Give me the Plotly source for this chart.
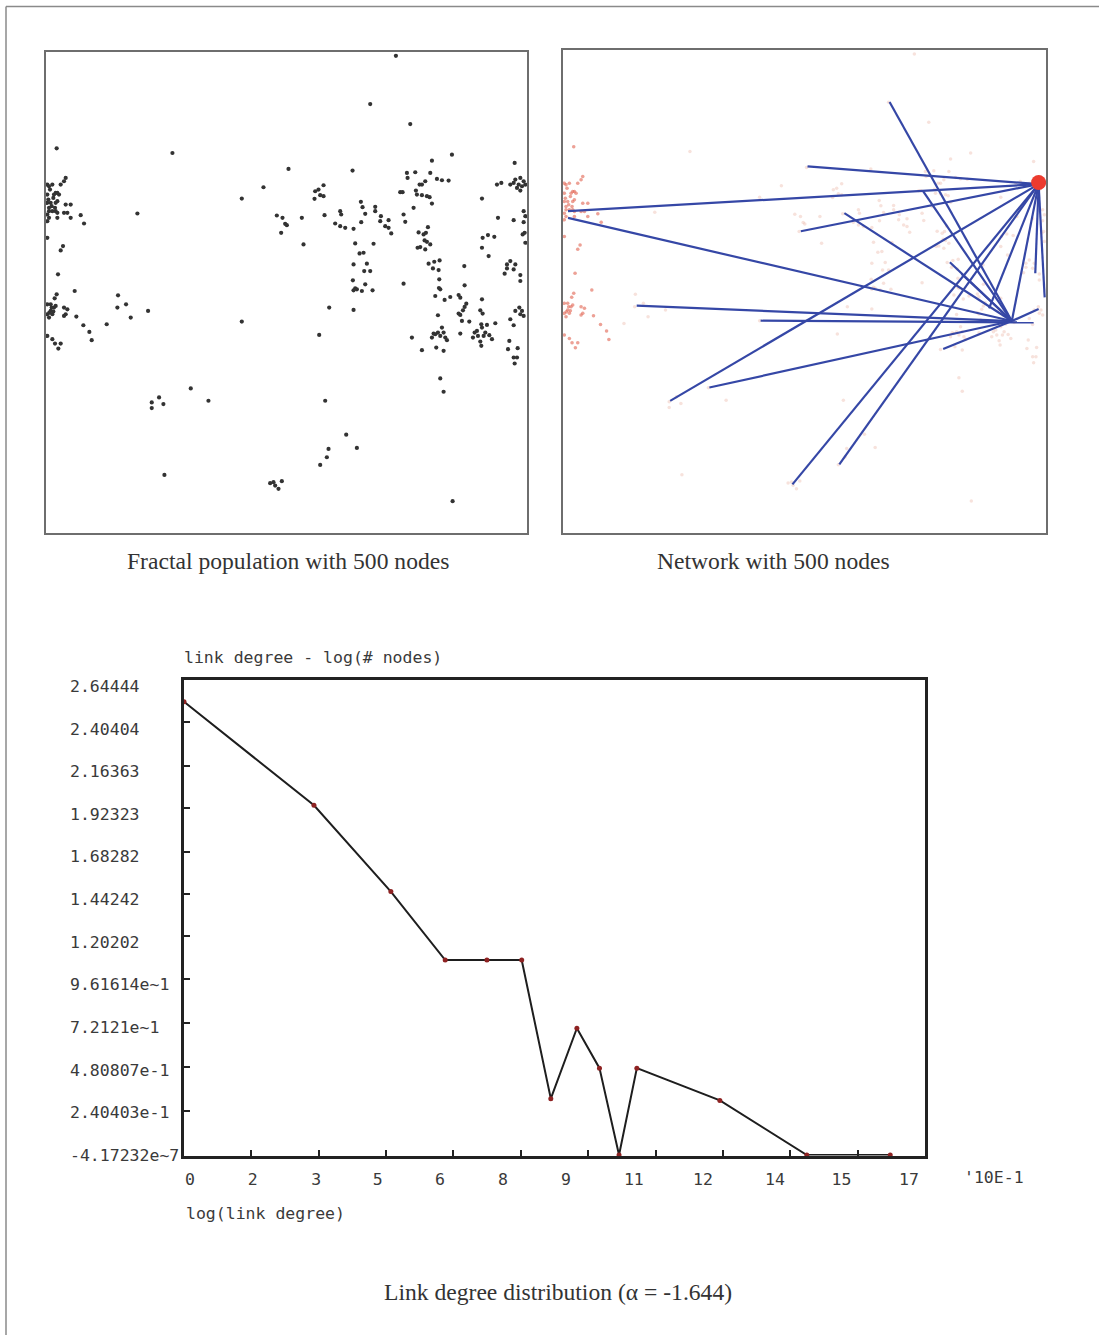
import plotly.graph_objects as go

W, H = 1099, 1344

# ---------------- Node positions (layout units, shared by both top panels) ----------------
west_nodes = [
    (50, 321), (22, 430), (27, 435), (37, 430), (62, 430), (77, 410), (72, 420), (47, 455), (57, 460),
    (52, 455), (42, 460), (22, 460), (22, 485), (32, 485), (47, 485), (52, 480), (27, 500), (27, 510),
    (37, 510), (47, 510), (52, 515), (22, 520), (27, 530), (22, 540), (52, 530), (77, 490), (92, 490),
    (72, 515), (82, 515), (92, 530), (122, 522), (132, 547), (22, 590), (69, 615), (62, 628), (54, 700),
    (30, 445), (40, 470), (35, 495), (45, 500), (25, 475),
    (104, 750), (50, 760), (44, 772), (22, 790), (32, 790), (42, 800), (32, 810), (22, 820), (37, 820),
    (47, 795), (27, 830), (72, 800), (82, 805), (72, 825), (77, 820), (109, 827), (130, 853), (148, 873),
    (155, 898), (22, 885), (37, 895), (45, 908), (62, 908), (55, 923), (35, 800), (28, 815), (40, 812),
]
middle_nodes = [
    (397, 335), (745, 383), (937, 388), (670, 438), (605, 472), (292, 517),
    (850, 432), (835, 445), (825, 450), (823, 473), (840, 462), (850, 465), (853, 522),
    (710, 523), (727, 530), (735, 548), (740, 552), (723, 575), (785, 530), (790, 610),
    (900, 510), (903, 520), (885, 547), (900, 555), (915, 560), (940, 563),
    (962, 482), (967, 498), (975, 518), (963, 543), (1005, 497), (1005, 510), (1022, 525), (1020, 540),
    (1045, 537), (1035, 555), (1045, 560), (1053, 577),
    (945, 607), (1000, 608), (958, 637), (970, 635), (940, 670), (980, 668), (972, 690), (990, 690),
    (938, 718), (975, 730), (945, 742), (940, 748), (950, 745), (965, 750), (997, 748),
    (867, 800), (940, 807), (837, 882), (605, 842),
    (234, 763), (258, 790), (232, 800), (272, 830), (324, 810), (200, 850),
    (1067, 43), (990, 188), (1110, 248),
]
east_nodes = [
    (1235, 340), (1175, 358), (1423, 365), (1100, 395), (1125, 393), (1170, 395), (1102, 410), (1145, 430),
    (1138, 430), (1155, 420), (1190, 413), (1205, 417), (1225, 418), (1127, 448), (1130, 460), (1145, 462),
    (1160, 465), (1168, 468), (1080, 453), (1087, 453), (1175, 487), (1120, 500), (1325, 472), (1370, 430),
    (1383, 425), (1410, 430),
    (1425, 415), (1440, 410), (1450, 420), (1435, 430), (1445, 435), (1430, 440), (1440, 448), (1420, 425),
    (1455, 430),
    (1090, 520), (1095, 542), (1163, 558), (1373, 530), (1420, 537), (1450, 510), (1455, 525), (1450, 543),
    (1135, 574), (1150, 580), (1157, 575), (1153, 598), (1160, 602), (1170, 610), (1132, 620), (1140, 618),
    (1155, 625), (1327, 590), (1343, 582), (1362, 587), (1325, 620), (1345, 645), (1453, 575), (1447, 580),
    (1455, 605), (1165, 668), (1182, 662), (1198, 658), (1178, 682), (1195, 687), (1272, 675), (1400, 670),
    (1410, 660), (1425, 670), (1420, 685), (1400, 682), (1393, 698), (1440, 702), (1440, 720), (1197, 715),
    (1090, 728), (1273, 733), (1200, 745), (1196, 741), (1185, 765), (1213, 777), (1230, 768), (1255, 762),
    (1260, 770), (1278, 788), (1273, 798), (1268, 808), (1325, 775), (1320, 808), (1327, 818), (1437, 800),
    (1445, 810), (1450, 825), (1440, 820), (1425, 810), (1193, 823), (1255, 818), (1260, 822), (1265, 840),
    (1287, 842), (1323, 850), (1340, 852), (1365, 847), (1410, 835), (1420, 853), (1205, 860), (1193, 875),
    (1200, 885), (1185, 880), (1175, 890), (1210, 875), (1215, 890), (1220, 898), (1180, 878), (1115, 890),
    (1260, 878), (1310, 870), (1325, 860), (1335, 875), (1303, 875), (1313, 885), (1330, 885), (1347, 883),
    (1355, 895), (1298, 890), (1320, 902), (1323, 915), (1407, 900), (1145, 928), (1188, 920), (1210, 930),
    (1403, 925), (1432, 922), (1420, 950), (1430, 950), (1423, 968), (1200, 1013), (1210, 1053),
]
south_nodes = [
    (452, 1043), (505, 1080), (335, 1085), (357, 1070), (370, 1090), (335, 1102), (855, 1080), (918, 1182),
    (950, 1222), (865, 1225), (860, 1250), (840, 1273), (373, 1303), (690, 1328), (700, 1325), (705, 1335),
    (715, 1345), (725, 1322), (1237, 1382),
]

# ---------------- Network edges (start node -> end node) ----------------
hub_a = (1438, 433)
hub_b = (1358, 843)
edge_starts = [
    (993, 187), (748, 380), (33, 514), (1093, 454), (728, 574), (858, 520), (33, 534), (338, 1082),
    (238, 797), (608, 842), (455, 1042), (703, 1332), (843, 1272), hub_a, hub_a, (1173, 667),
    (1208, 702), (1153, 927), hub_b, hub_a, hub_a,
]
edge_ends = [
    hub_b, hub_a, hub_a, hub_b, hub_a, hub_b, hub_b, hub_a,
    hub_b, (1423, 847), hub_b, hub_a, hub_a, hub_b, (1456, 772), hub_b,
    hub_b, hub_b, (1438, 807), (1290, 805), (1428, 700),
]

# ---------------- Link degree distribution ----------------
log_degree = [0.0, 2.99, 4.76, 6.01, 6.97, 7.77, 8.44, 9.04, 9.56, 10.01, 10.42, 12.33, 14.33, 16.25]
log_nodes = [2.557, 1.973, 1.486, 1.100, 1.100, 1.100, 0.318, 0.715, 0.490, 0.0, 0.490, 0.308, 0.0, 0.0]

y_label_vals = [2.64444, 2.40404, 2.16363, 1.92323, 1.68282, 1.44242, 1.20202, 0.961614, 0.72121,
                0.480807, 0.240403, -4.17232e-7]
y_label_text = ["2.64444", "2.40404", "2.16363", "1.92323", "1.68282", "1.44242", "1.20202",
                "9.61614e~1", "7.2121e~1", "4.80807e-1", "2.40403e-1", "-4.17232e~7"]
y_tick_marks = [2.444, 2.196, 1.960, 1.712, 1.470, 1.234, 0.992, 0.745, 0.498, 0.250]

x_tick_marks = [1.55, 3.10, 4.65, 6.20, 7.75, 9.30, 10.85, 12.40, 13.95, 15.50]
x_label_pos = [0.14, 1.58, 3.04, 4.46, 5.89, 7.34, 8.79, 10.35, 11.94, 13.60, 15.13, 16.68]
x_label_text = ["0", "2", "3", "5", "6", "8", "9", "11", "12", "14", "15", "17"]

X_RANGE = [0, 17.05]
Y_RANGE = [-0.003, 2.68]
SPACE_X = [18, 1460]
SPACE_Y = [1478, 30]

MONO = "DejaVu Sans Mono"
SERIF = "Liberation Serif"


def PX(x):
    return x / W


def PY(y):
    # page pixel row -> paper fraction (compensates the capture's slight vertical squeeze)
    return 1 - ((y - 2.4) / 0.992) / H


all_nodes = west_nodes + middle_nodes + east_nodes + south_nodes
node_x = [p[0] for p in all_nodes]
node_y = [p[1] for p in all_nodes]
red_x = [p[0] for p in west_nodes]
red_y = [p[1] for p in west_nodes]

fig = go.Figure()

# Panel 1: fractal population
fig.add_trace(go.Scatter(x=node_x, y=node_y, mode="markers", xaxis="x", yaxis="y",
                         marker=dict(size=4.2, color="#333333"), hoverinfo="skip", showlegend=False))

# Panel 2: network (nodes faint, edges blue)
fig.add_trace(go.Scatter(x=node_x, y=node_y, mode="markers", xaxis="x2", yaxis="y2",
                         marker=dict(size=3.5, color="rgba(228,160,140,0.3)"), hoverinfo="skip",
                         showlegend=False))
fig.add_trace(go.Scatter(x=red_x, y=red_y, mode="markers", xaxis="x2", yaxis="y2",
                         marker=dict(size=3.5, color="rgba(228,95,80,0.5)"), hoverinfo="skip",
                         showlegend=False))
ex, ey = [], []
for s, e in zip(edge_starts, edge_ends):
    ex += [s[0], e[0], None]
    ey += [s[1], e[1], None]
fig.add_trace(go.Scatter(x=ex, y=ey, mode="lines", xaxis="x2", yaxis="y2",
                         line=dict(color="#3547a6", width=2.2), hoverinfo="skip", showlegend=False))
fig.add_trace(go.Scatter(x=[hub_a[0]], y=[hub_a[1] - 5], mode="markers", xaxis="x2", yaxis="y2",
                         marker=dict(size=15, color="#ec3b2e"), hoverinfo="skip", showlegend=False))

# Panel 3: distribution
fig.add_trace(go.Scatter(x=log_degree, y=log_nodes, mode="lines+markers", xaxis="x3", yaxis="y3",
                         line=dict(color="#1e1e1e", width=2),
                         marker=dict(size=5, color="#8e2222"), cliponaxis=False, showlegend=False))
# carriers for the label axes
fig.add_trace(go.Scatter(x=log_degree, y=log_nodes, mode="markers", xaxis="x4", yaxis="y3",
                         marker=dict(opacity=0), hoverinfo="skip", showlegend=False))
fig.add_trace(go.Scatter(x=log_degree, y=log_nodes, mode="markers", xaxis="x3", yaxis="y4",
                         marker=dict(opacity=0), hoverinfo="skip", showlegend=False))


def box_axis(domain, rng):
    return dict(domain=domain, range=rng, showticklabels=False, ticks="", showgrid=False,
                zeroline=False, showline=True, mirror=True, linecolor="#6e6e6e", linewidth=1.5)


p1x = [PX(46), PX(527)]
p1y = [PY(533), PY(51)]
p2x = [PX(563), PX(1046)]
p2y = [PY(533), PY(49)]
p3x = [PX(184), PX(925)]
p3y = [PY(1156), PY(680)]

mono_font = dict(family=MONO, size=16.5, color="#3a3a3a")
serif_font = dict(family=SERIF, size=23.6, color="#333")

fig.update_layout(
    width=W, height=H, margin=dict(l=0, r=0, t=0, b=0),
    paper_bgcolor="white", plot_bgcolor="white",
    xaxis=dict(**box_axis(p1x, SPACE_X), anchor="y"),
    yaxis=dict(**box_axis(p1y, SPACE_Y), anchor="x"),
    xaxis2=dict(**box_axis(p2x, SPACE_X), anchor="y2"),
    yaxis2=dict(**box_axis(p2y, SPACE_Y), anchor="x2"),
    xaxis3=dict(domain=p3x, range=X_RANGE, anchor="y3", tickvals=x_tick_marks, ticks="inside",
                ticklen=6, tickwidth=2, tickcolor="#222", showticklabels=False, showgrid=False,
                zeroline=False, showline=True, mirror=True, linecolor="#222", linewidth=2.5),
    yaxis3=dict(domain=p3y, range=Y_RANGE, anchor="x3", tickvals=y_tick_marks, ticks="inside",
                ticklen=6, tickwidth=2, tickcolor="#222", showticklabels=False, showgrid=False,
                zeroline=False, showline=True, mirror=True, linecolor="#222", linewidth=2.5),
    xaxis4=dict(overlaying="x3", anchor="y3", side="bottom", range=X_RANGE, tickvals=x_label_pos,
                ticktext=x_label_text, ticks="outside", ticklen=9, tickcolor="rgba(0,0,0,0)",
                showgrid=False, zeroline=False, showline=False, tickfont=mono_font),
    yaxis4=dict(overlaying="y3", anchor="free", position=PX(69), side="right", range=Y_RANGE,
                tickvals=y_label_vals, ticktext=y_label_text, ticks="", showgrid=False,
                zeroline=False, showline=False, tickfont=mono_font),
)

annotations = [
    dict(text="Fractal population with 500 nodes", x=PX(288), y=PY(561), xanchor="center",
         yanchor="middle", font=serif_font),
    dict(text="Network with 500 nodes", x=PX(773), y=PY(561), xanchor="center",
         yanchor="middle", font=serif_font),
    dict(text="link degree - log(# nodes)", x=PX(182), y=PY(658), xanchor="left",
         yanchor="middle", font=mono_font),
    dict(text="log(link degree)", x=PX(184), y=PY(1214), xanchor="left",
         yanchor="middle", font=mono_font),
    dict(text="'10E-1", x=PX(994), y=PY(1178), xanchor="center", yanchor="middle",
         font=mono_font),
    dict(text="Link degree distribution (\u03b1 = -1.644)", x=PX(558), y=PY(1293),
         xanchor="center", yanchor="middle", font=serif_font),
]
for a in annotations:
    a.update(xref="paper", yref="paper", showarrow=False)
fig.update_layout(annotations=annotations)

fig.update_layout(shapes=[
    dict(type="line", xref="paper", yref="paper", x0=PX(6), x1=1, y0=PY(6), y1=PY(6),
         line=dict(color="#8a8a8a", width=1.5)),
    dict(type="line", xref="paper", yref="paper", x0=PX(6), x1=PX(6), y0=0, y1=PY(6),
         line=dict(color="#8a8a8a", width=1.5)),
])

POST = ("var d=document.getElementById('{plot_id}');"
        "d.style.position='fixed';d.style.top='0px';d.style.left='0px';"
        "document.body.style.margin='0';"
        "document.documentElement.style.overflow='hidden';"
        "document.body.style.overflow='hidden';")

fig.write_html("out.html", config={"displayModeBar": False}, post_script=POST)
